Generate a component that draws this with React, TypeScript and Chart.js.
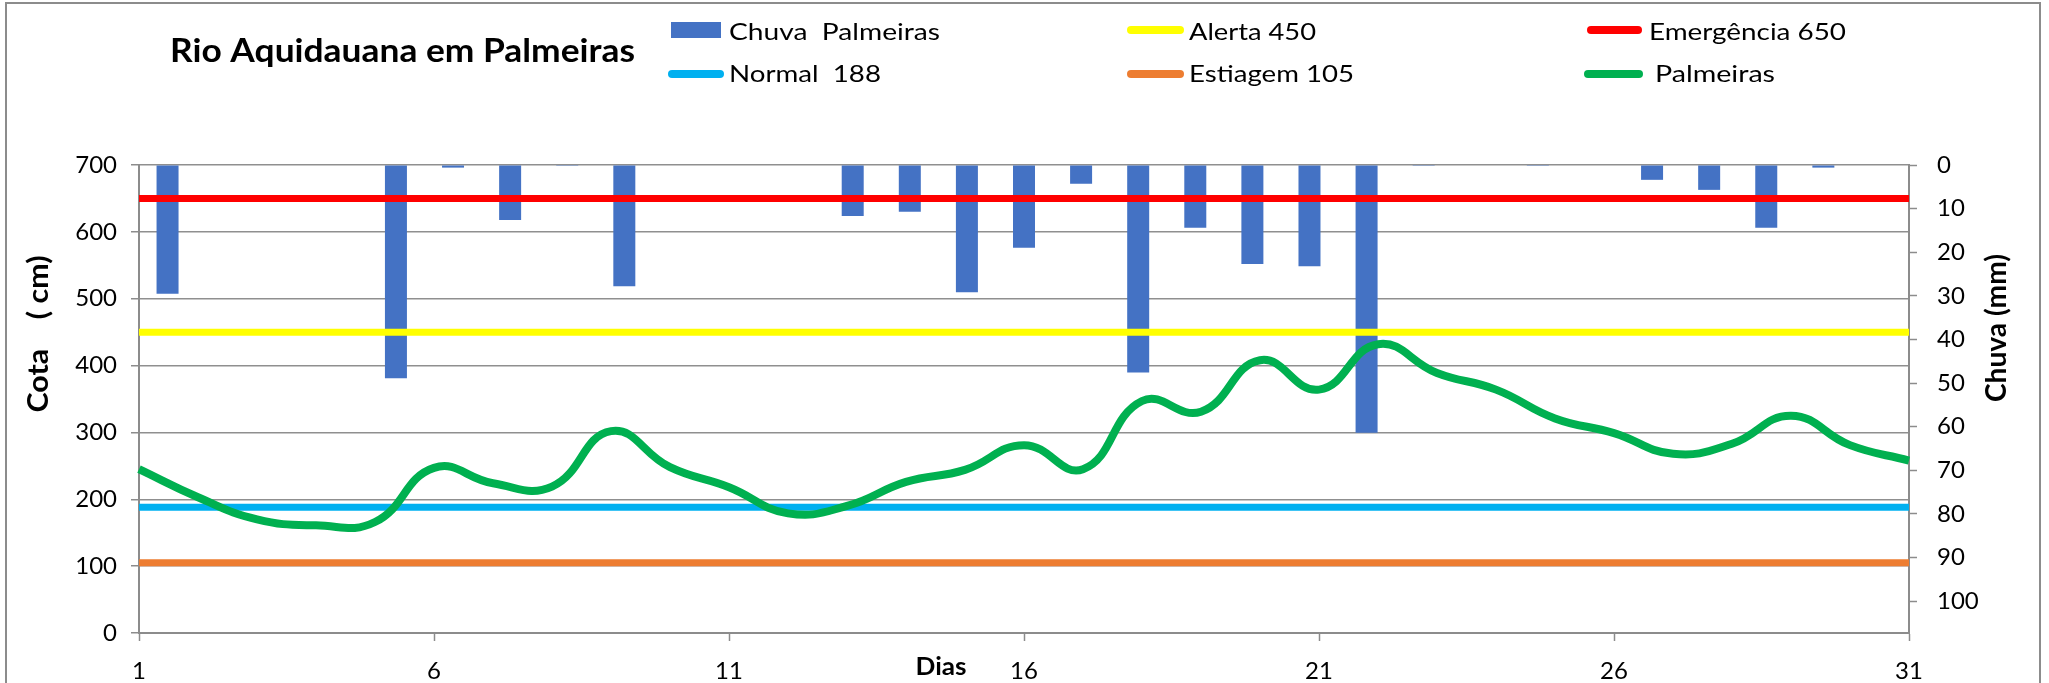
import React, { useEffect, useRef } from "react";
import { Chart, registerables } from "chart.js";

Chart.register(...registerables);

const TITLE = "Rio Aquidauana em Palmeiras";
const Y_TITLE = "Cota    ( cm)";
const Y2_TITLE = "Chuva (mm)";
const X_TITLE = "Dias";
const DAYS = ["1","2","3","4","5","6","7","8","9","10","11","12","13","14","15","16","17","18","19","20","21","22","23","24","25","26","27","28","29","30","31"];
const X_TICK_DAYS = ["1","6","11","16","21","26","31"];
const CHUVA = [29.5,0,0,0,48.9,0.6,12.6,0.2,27.8,0,0,0,11.7,10.7,29.2,19.0,4.3,47.6,14.4,22.7,23.2,61.4,0.2,0,0.2,0,3.4,5.7,14.4,0.6,0];
const PALMEIRAS = [245,203,170,161,166,247,224,219,302,248,218,179,190,226,244,281,245,347,331,408,364,432,389,364,321,299,268,283,325,281,258];
const NORMAL = 188;
const ALERTA = 450;
const EMERGENCIA = 650;
const ESTIAGEM = 105;
const COTA_TICKS = [0,100,200,300,400,500,600,700];
const CHUVA_TICKS = [0,10,20,30,40,50,60,70,80,90,100];
const CHUVA_AXIS_MAX = 107.3;

const FONT = "Lato";
const AXIS_GRAY = "#8c8c8c";

// legend layout: dataset index, swatch x range, row y, text x, baseline, text width
const LEGEND_LAYOUT = [
  { ds: 0, sx0: 671, sx1: 721, y: 30, tx: 729, base: 40, w: 211 },
  { ds: 3, sx0: 1127, sx1: 1184, y: 30, tx: 1189, base: 40, w: 127 },
  { ds: 4, sx0: 1587, sx1: 1642, y: 30, tx: 1649, base: 40, w: 197 },
  { ds: 1, sx0: 668, sx1: 724, y: 74, tx: 729, base: 82, w: 152 },
  { ds: 2, sx0: 1127, sx1: 1184, y: 74, tx: 1189, base: 82, w: 165 },
  { ds: 5, sx0: 1584, sx1: 1643, y: 74, tx: 1655, base: 82, w: 120 },
];

function drawFitted(
  ctx: CanvasRenderingContext2D,
  text: string,
  x: number,
  y: number,
  width: number,
  align: CanvasTextAlign,
  rotate = 0
) {
  const natural = ctx.measureText(text).width;
  const sx = width / natural;
  ctx.save();
  ctx.translate(x, y);
  if (rotate) ctx.rotate(rotate);
  ctx.scale(sx, 1);
  ctx.textAlign = align;
  ctx.textBaseline = "alphabetic";
  ctx.fillText(text, 0, 0);
  ctx.restore();
}

const overlayPlugin = {
  id: "overlay",
  afterDraw(chart: any) {
    const ctx = chart.ctx as CanvasRenderingContext2D;
    ctx.save();
    // outer chart border
    ctx.strokeStyle = AXIS_GRAY;
    ctx.lineWidth = 2;
    ctx.strokeRect(6, 3, 2034, 700);

    ctx.fillStyle = "#000";

    // title
    ctx.font = `bold 33px ${FONT}`;
    drawFitted(ctx, TITLE, 402.5, 62, 465, "center");

    // legend
    for (const item of LEGEND_LAYOUT) {
      const ds = chart.data.datasets[item.ds];
      if (ds.type === "bar") {
        ctx.fillStyle = ds.backgroundColor;
        ctx.fillRect(item.sx0, item.y - 8, item.sx1 - item.sx0, 16);
      } else {
        ctx.strokeStyle = ds.borderColor;
        ctx.lineWidth = 8;
        ctx.lineCap = "round";
        ctx.beginPath();
        ctx.moveTo(item.sx0 + 4, item.y);
        ctx.lineTo(item.sx1 - 4, item.y);
        ctx.stroke();
      }
      ctx.fillStyle = "#000";
      ctx.font = `24px ${FONT}`;
      drawFitted(ctx, ds.label.trim(), item.tx, item.base, item.w, "left");
    }

    // axis titles
    ctx.fillStyle = "#000";
    ctx.font = `bold 28px ${FONT}`;
    drawFitted(ctx, Y_TITLE, 48, 334, 157, "center", -Math.PI / 2);
    drawFitted(ctx, Y2_TITLE, 2006, 328, 148, "center", -Math.PI / 2);
    ctx.font = `bold 24px ${FONT}`;
    drawFitted(ctx, X_TITLE, 941, 675, 51, "center");

    ctx.restore();
  },
};

export default function App() {
  const canvasRef = useRef<HTMLCanvasElement | null>(null);

  useEffect(() => {
    if (!canvasRef.current) return;
    Chart.defaults.font.family = FONT;
    const lineDs = (label: string, value: number, color: string, order: number) => ({
      type: "line" as const,
      label,
      data: DAYS.map(() => value),
      borderColor: color,
      backgroundColor: color,
      borderWidth: 7,
      pointRadius: 0,
      tension: 0,
      xAxisID: "x",
      yAxisID: "y",
      order,
    });
    const chart = new Chart(canvasRef.current, {
      type: "line",
      data: {
        labels: DAYS,
        datasets: [
          {
            type: "bar",
            label: "Chuva  Palmeiras",
            data: CHUVA,
            backgroundColor: "#4472C4",
            borderWidth: 0,
            inflateAmount: 0,
            barThickness: 22,
            grouped: false,
            xAxisID: "x2",
            yAxisID: "y2",
            order: 10,
          } as any,
          lineDs("Normal  188", NORMAL, "#00B0F0", 4),
          lineDs("Estiagem 105", ESTIAGEM, "#ED7D31", 3),
          lineDs("Alerta 450", ALERTA, "#FFFF00", 2),
          lineDs("Emergência 650", EMERGENCIA, "#FF0000", 1),
          {
            type: "line",
            label: " Palmeiras",
            data: PALMEIRAS,
            borderColor: "#00B050",
            backgroundColor: "#00B050",
            borderWidth: 8,
            pointRadius: 0,
            tension: 0.45,
            xAxisID: "x",
            yAxisID: "y",
            order: 0,
          },
        ],
      },
      options: {
        animation: false,
        responsive: true,
        maintainAspectRatio: false,
        layout: { padding: { top: 165, left: 0, right: 0, bottom: 0 } },
        plugins: { legend: { display: false }, title: { display: false }, tooltip: { enabled: false } },
        scales: {
          x: {
            type: "category",
            position: "bottom",
            offset: false,
            grid: { drawOnChartArea: false, drawTicks: true, tickLength: 8, tickColor: AXIS_GRAY, tickWidth: 1.5 },
            border: { display: true, color: AXIS_GRAY, width: 2 },
            ticks: { autoSkip: false, maxRotation: 0, color: "#000", font: { size: 24, family: FONT }, padding: 16 },
            afterBuildTicks: (s: any) => {
              s.ticks = s.ticks.filter((t: any) => X_TICK_DAYS.includes(DAYS[t.value]));
            },
            afterFit: (s: any) => { s.height = 50; },
          },
          x2: {
            type: "category",
            display: false,
            offset: true,
          },
          y: {
            type: "linear",
            position: "left",
            min: 0,
            max: 700,
            grid: {
              color: "#8f8f8f",
              lineWidth: 1.5,
              borderDash: [2, 2],
              tickLength: 8,
              tickColor: AXIS_GRAY,
              tickWidth: 1.5,
              tickBorderDash: [],
            },
            border: { display: true, color: AXIS_GRAY, width: 2 },
            ticks: { color: "#000", font: { size: 24, family: FONT }, padding: 14 },
            afterBuildTicks: (s: any) => { s.ticks = COTA_TICKS.map((v) => ({ value: v })); },
            afterFit: (s: any) => { s.width = 139; },
          },
          y2: {
            type: "linear",
            position: "right",
            reverse: true,
            min: 0,
            max: CHUVA_AXIS_MAX,
            grid: { drawOnChartArea: false, tickLength: 8, tickColor: AXIS_GRAY, tickWidth: 1.5 },
            border: { display: true, color: AXIS_GRAY, width: 2 },
            ticks: { color: "#000", font: { size: 24, family: FONT }, padding: 20 },
            afterBuildTicks: (s: any) => { s.ticks = CHUVA_TICKS.map((v) => ({ value: v })); },
            afterFit: (s: any) => { s.width = 140; },
          },
        },
      } as any,
      plugins: [overlayPlugin],
    });
    return () => chart.destroy();
  }, []);

  return (
    <div style={{ position: "fixed", left: 0, top: 0, width: 2049, height: 683, background: "#fff" }}>
      <canvas ref={canvasRef} />
    </div>
  );
}
